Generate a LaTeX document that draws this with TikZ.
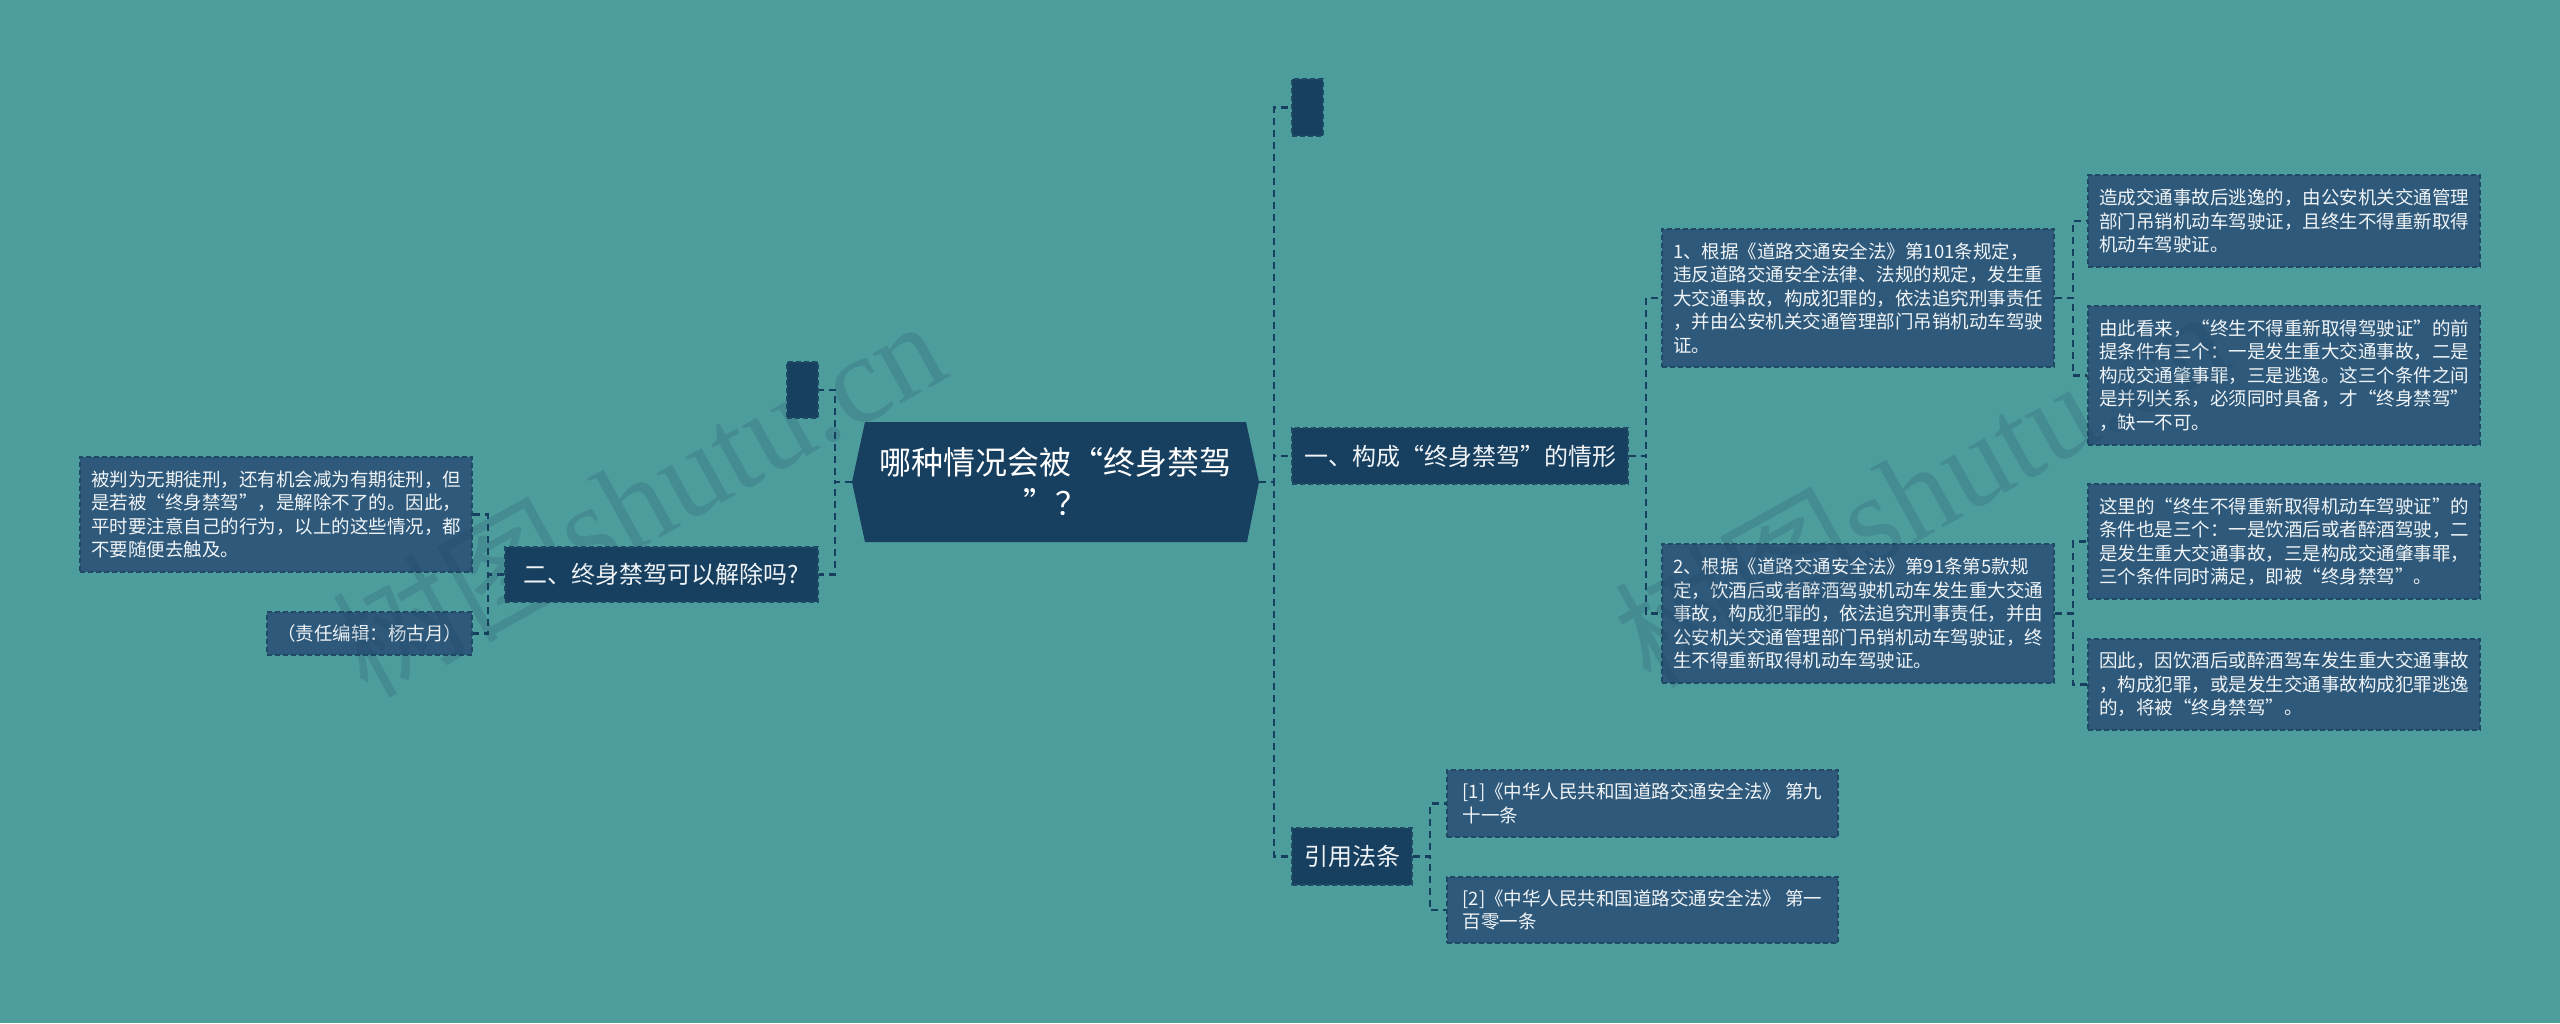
\documentclass[tikz,border=0pt]{standalone}
\usepackage{fontspec}
\setmainfont{Noto Sans CJK SC}
\newfontfamily\wmserif{Liberation Serif}
\usetikzlibrary{calc}
\definecolor{bg}{RGB}{78,157,157}
\definecolor{navy}{RGB}{23,63,95}
\definecolor{leaf}{RGB}{46,89,122}
\definecolor{edge}{RGB}{30,74,102}
\definecolor{txt}{RGB}{240,244,247}
\begin{document}
\begin{tikzpicture}[x=1pt,y=-1pt,
  box/.style={draw=edge, dash pattern=on 5pt off 3pt, line width=1.5pt, inner sep=0pt, text=txt, align=left},
  mainbox/.style={box, fill=navy, font=\fontsize{24}{30}\selectfont},
  leafbox/.style={box, fill=leaf, font=\fontsize{18.5}{23.5}\selectfont},
  conn/.style={draw=navy, line width=2.2pt, dash pattern=on 7pt off 5pt},
  wm/.style={rotate=29, anchor=base west, text=navy, opacity=0.18, inner sep=0pt, font=\fontsize{125}{125}\selectfont}
]
\fill[bg] (0,0) rectangle (2560,1023);
\useasboundingbox (0,0) rectangle (2560,1023);

% central hexagon
\fill[navy] (852,482) -- (865,422) -- (1246,422) -- (1259,482) -- (1247,542) -- (865,542) -- cycle;
\node[minimum width=407pt, minimum height=120pt, inner sep=0pt, text=white, align=center,
      font=\fontsize{32}{41}\selectfont] (C) at (1055.5,482) {哪种情况会被“终身禁驾\\”？};

% level 1
\node[mainbox, minimum width=31pt, minimum height=57pt] (E1) at (1307.5,107.5) {};
\node[mainbox, minimum width=31pt, minimum height=56pt] (E2) at (802.5,390) {};
\node[mainbox, minimum width=336pt, minimum height=56pt] (A) at (1460,456) {一、构成“终身禁驾”的情形};
\node[mainbox, minimum width=313pt, minimum height=55pt] (B) at (661.5,574.5) {二、终身禁驾可以解除吗?};
\node[mainbox, minimum width=120pt, minimum height=57pt] (R) at (1352,856.5) {引用法条};

% left leaves
\node[leafbox, minimum width=392pt, minimum height=115pt] (L1) at (276,514.5)
 {被判为无期徒刑，还有机会减为有期徒刑，但\\是若被“终身禁驾”，是解除不了的。因此，\\平时要注意自己的行为，以上的这些情况，都\\不要随便去触及。};
\node[leafbox, minimum width=205pt, minimum height=43pt] (L2) at (369.5,633.5) {（责任编辑：杨古月）};

% right level 2
\node[leafbox, minimum width=392pt, minimum height=138pt] (N1) at (1858,298)
 {1、根据《道路交通安全法》第101条规定，\\违反道路交通安全法律、法规的规定，发生重\\大交通事故，构成犯罪的，依法追究刑事责任\\，并由公安机关交通管理部门吊销机动车驾驶\\证。};
\node[leafbox, minimum width=392pt, minimum height=139pt] (N2) at (1858,613.5)
 {2、根据《道路交通安全法》第91条第5款规\\定，饮酒后或者醉酒驾驶机动车发生重大交通\\事故，构成犯罪的，依法追究刑事责任，并由\\公安机关交通管理部门吊销机动车驾驶证，终\\生不得重新取得机动车驾驶证。};

% right level 3
\node[leafbox, minimum width=392pt, minimum height=92pt] (CA) at (2284,221)
 {造成交通事故后逃逸的，由公安机关交通管理\\部门吊销机动车驾驶证，且终生不得重新取得\\机动车驾驶证。};
\node[leafbox, minimum width=392pt, minimum height=139pt] (CB) at (2284,375.5)
 {由此看来，“终生不得重新取得驾驶证”的前\\提条件有三个：一是发生重大交通事故，二是\\构成交通肇事罪，三是逃逸。这三个条件之间\\是并列关系，必须同时具备，才“终身禁驾”\\，缺一不可。};
\node[leafbox, minimum width=392pt, minimum height=115pt] (CC) at (2284,541.5)
 {这里的“终生不得重新取得机动车驾驶证”的\\条件也是三个：一是饮酒后或者醉酒驾驶，二\\是发生重大交通事故，三是构成交通肇事罪，\\三个条件同时满足，即被“终身禁驾”。};
\node[leafbox, minimum width=392pt, minimum height=91pt] (CD) at (2284,684.5)
 {因此，因饮酒后或醉酒驾车发生重大交通事故\\，构成犯罪，或是发生交通事故构成犯罪逃逸\\的，将被“终身禁驾”。};

% references
\node[leafbox, minimum width=391pt, minimum height=67pt] (F1) at (1642.5,803.5)
 {[1]《中华人民共和国道路交通安全法》 第九\\十一条};
\node[leafbox, minimum width=391pt, minimum height=66pt] (F2) at (1642.5,910)
 {[2]《中华人民共和国道路交通安全法》 第一\\百零一条};

% connectors
\draw[conn] (C.west) -- ++(-17,0) |- (E2.east);
\draw[conn] (C.west) -- ++(-17,0) |- (B.east);
\draw[conn] (C.east) -- ++(15,0) |- (E1.west);
\draw[conn] (C.east) -- ++(15,0) |- (A.west);
\draw[conn] (C.east) -- ++(15,0) |- (R.west);
\draw[conn] (B.west) -- ++(-16,0) |- (L1.east);
\draw[conn] (B.west) -- ++(-16,0) |- (L2.east);
\draw[conn] (A.east) -- ++(17,0) |- (N1.west);
\draw[conn] (A.east) -- ++(17,0) |- (N2.west);
\draw[conn] (N1.east) -- ++(18,0) |- (CA.west);
\draw[conn] (N1.east) -- ++(18,0) |- (CB.west);
\draw[conn] (N2.east) -- ++(18,0) |- (CC.west);
\draw[conn] (N2.east) -- ++(18,0) |- (CD.west);
\draw[conn] (R.east) -- ++(17,0) |- (F1.west);
\draw[conn] (R.east) -- ++(17,0) |- (F2.west);

% watermarks
\node[wm] (W1) at (367,700) {树图{\wmserif shutu.cn}};
\node[wm] (W2) at (1650,690) {树图{\wmserif shutu.cn}};
\end{tikzpicture}
\end{document}
